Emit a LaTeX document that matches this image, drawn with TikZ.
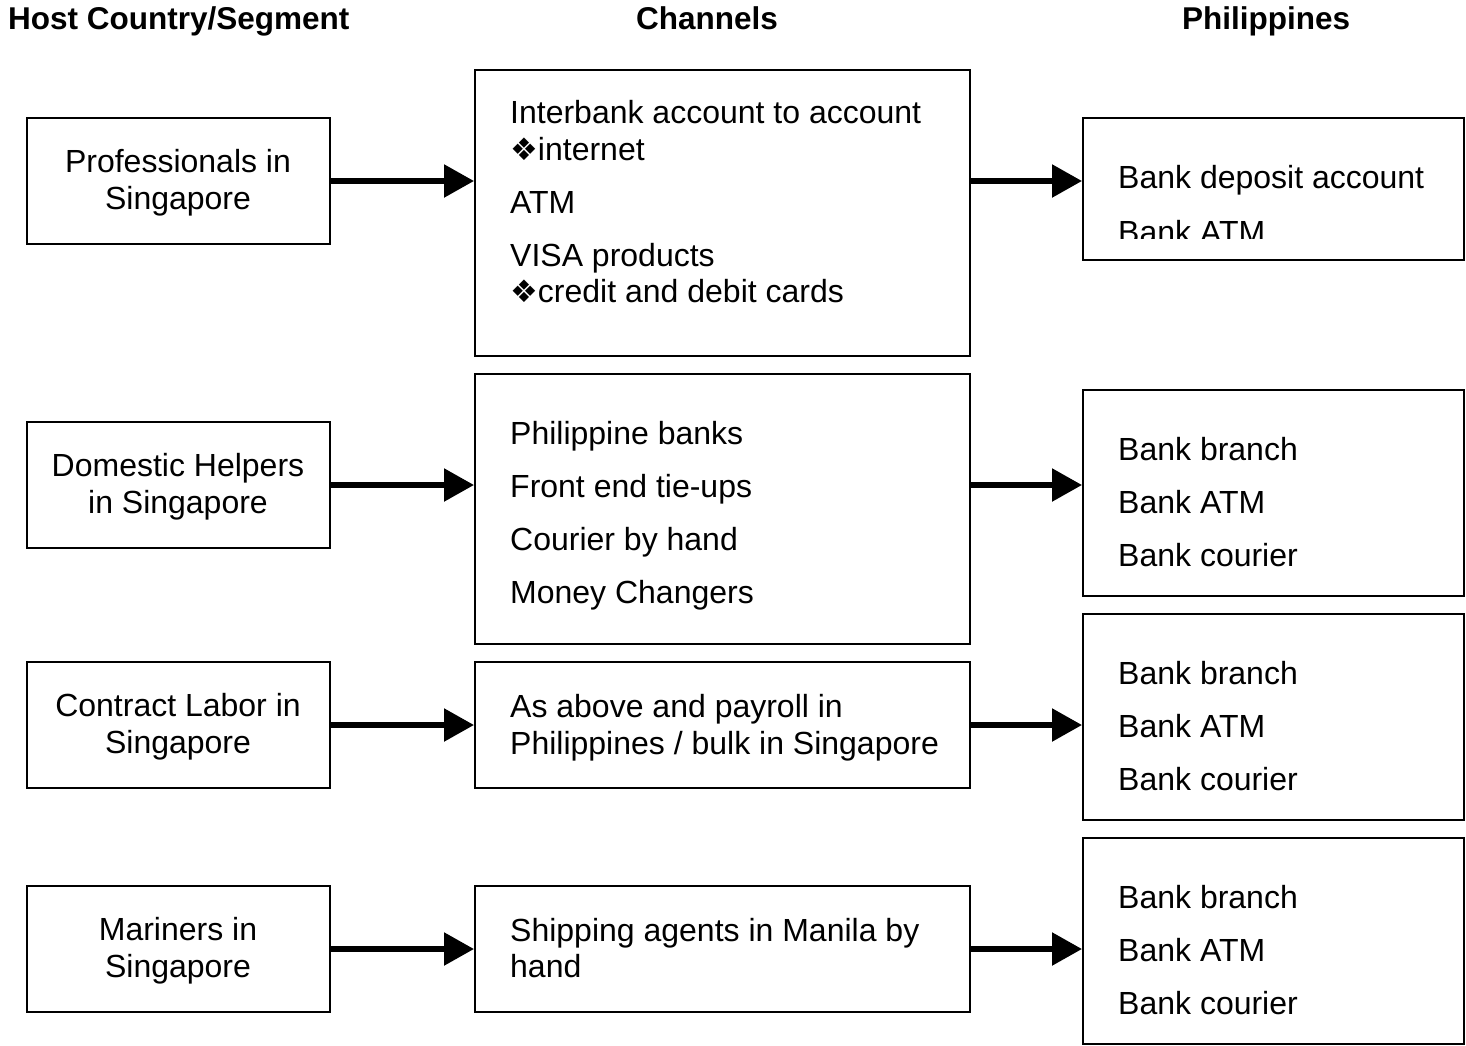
\documentclass[tikz,border=0pt]{standalone}
\usepackage{fontspec}
\setmainfont{Liberation Sans}
\newfontfamily\dejavu{DejaVu Sans}
\usetikzlibrary{arrows.meta}
\tikzset{
  box/.style={draw=black, line width=2pt, inner sep=0pt, rectangle},
  lbox/.style={box, minimum width=303pt, minimum height=126pt},
  txt/.style={inner sep=0pt, font=\fontsize{32}{37}\selectfont},
  hdr/.style={inner sep=0pt, font=\fontsize{31.5}{37}\selectfont\bfseries},
  flow/.style={line width=5.5pt, -{Triangle[length=30pt,width=32pt]}}
}
\newcommand{\dia}{{\dejavu\fontsize{31}{36}\selectfont ❖}}
\begin{document}
\begin{tikzpicture}[x=1pt,y=-1pt]
\useasboundingbox (0,0) rectangle (1466,1045);
% headers
\node[hdr, anchor=base west] (h1) at (8,29) {Host Country/Segment};
\node[hdr, anchor=base] (h2) at (707,29) {Channels};
\node[hdr, anchor=base] (h3) at (1266,29) {Philippines};
% left boxes
\node[lbox] (l1) at (178.5,181) {};
\node[lbox] (l2) at (178.5,485) {};
\node[lbox] (l3) at (178.5,725) {};
\node[lbox] (l4) at (178.5,949) {};
% middle boxes
\node[box, minimum width=495pt, minimum height=286pt] (m1) at (722.5,213) {};
\node[box, minimum width=495pt, minimum height=270pt] (m2) at (722.5,509) {};
\node[box, minimum width=495pt, minimum height=126pt] (m3) at (722.5,725) {};
\node[box, minimum width=495pt, minimum height=126pt] (m4) at (722.5,949) {};
% right boxes
\node[box, minimum width=381pt, minimum height=142pt] (r1) at (1273.5,189) {};
\node[box, minimum width=381pt, minimum height=206pt] (r2) at (1273.5,493) {};
\node[box, minimum width=381pt, minimum height=206pt] (r3) at (1273.5,717) {};
\node[box, minimum width=381pt, minimum height=206pt] (r4) at (1273.5,941) {};
% left texts
\node[txt, anchor=base] (t11) at (178,172) {Professionals in};
\node[txt, anchor=base] (t12) at (178,209) {Singapore};
\node[txt, anchor=base] (t21) at (178,476) {Domestic Helpers};
\node[txt, anchor=base] (t22) at (178,513) {in Singapore};
\node[txt, anchor=base] (t31) at (178,716) {Contract Labor in};
\node[txt, anchor=base] (t32) at (178,753) {Singapore};
\node[txt, anchor=base] (t41) at (178,940) {Mariners in};
\node[txt, anchor=base] (t42) at (178,977) {Singapore};
% middle texts
\node[txt, anchor=base west] (c11) at (510,123) {Interbank account to account};
\node[txt, anchor=base west] (c12) at (510,160) {\dia internet};
\node[txt, anchor=base west] (c13) at (510,213) {ATM};
\node[txt, anchor=base west] (c14) at (510,266) {VISA products};
\node[txt, anchor=base west] (c15) at (510,302) {\dia credit and debit cards};
\node[txt, anchor=base west] (c21) at (510,444) {Philippine banks};
\node[txt, anchor=base west] (c22) at (510,497) {Front end tie-ups};
\node[txt, anchor=base west] (c23) at (510,550) {Courier by hand};
\node[txt, anchor=base west] (c24) at (510,603) {Money Changers};
\node[txt, anchor=base west] (c31) at (510,717) {As above and payroll in};
\node[txt, anchor=base west] (c32) at (510,754) {Philippines / bulk in Singapore};
\node[txt, anchor=base west] (c41) at (510,941) {Shipping agents in Manila by};
\node[txt, anchor=base west] (c42) at (510,977) {hand};
% right texts
\node[txt, anchor=base west] (p11) at (1118,188) {Bank deposit account};
\begin{scope}
\clip (1083,200) rectangle (1464,238);
\node[txt, anchor=base west] (p12) at (1118,243) {Bank ATM};
\end{scope}
\foreach \r/\y in {2/460,3/684,4/908}{
  \node[txt, anchor=base west] (p\r1) at (1118,\y) {Bank branch};
  \node[txt, anchor=base west] (p\r2) at (1118,\y+53) {Bank ATM};
  \node[txt, anchor=base west] (p\r3) at (1118,\y+106) {Bank courier};
}
% arrows
\foreach \i in {1,2,3,4}{
  \draw[flow] (l\i.east) -- (l\i.east -| m\i.west);
  \draw[flow] (l\i.east -| m\i.east) -- (l\i.east -| r\i.west);
}
\end{tikzpicture}
\end{document}
